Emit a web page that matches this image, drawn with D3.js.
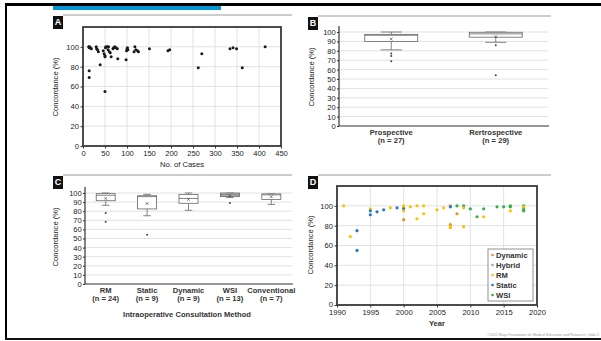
<!DOCTYPE html>
<html><head><meta charset="utf-8">
<script src="https://cdn.jsdelivr.net/npm/d3@7"></script>
<style>
body{margin:0;background:#fff;}
text{font-family:"Liberation Sans",Arial,Helvetica,sans-serif;}
</style></head>
<body><svg id="c" width="601" height="341"></svg>
<script>
// ---------- DATA ----------
// Panel A: number of cases vs concordance
const casesA = [13,15,17,19,14,14,14,30,31,33,35,39,46,48,50,50,50,51,52,55,57,58,60,62,64,68,70,72,75,78,79,98,99,100,101,102,118,116,120,124,126,151,193,197,262,270,334,341,349,362,414];
const concA  = [100,100,99,98,99,76,69,100,98,97,95,82,96,93,91,90,55,99,100,100,97,100,95,94,90,98,99,100,99,98,88,87,96,98,99,97,100,95,97,96,95,98,96,97,79,93,98,99,98,79,100];
const ticksA_x = [0,50,100,150,200,250,300,350,400,450];
const ticksA_y = [0,20,40,60,80,100];

// Panel B: study design box plots
const catsB = ["Prospective","Rertrospective"];
const nB = [27,29];
const lowB = [81,89], q1B = [90,94.5], medB = [96.5,98], q3B = [97.5,99.7], highB = [100,100], meanB = [92.5,95];
const outB = [[77,74.5,69],[86,54]];
const ticksB_y = [0,10,20,30,40,50,60,70,80,90,100];

// Panel C: consultation method box plots
const catsC = ["RM","Static","Dynamic","WSI","Conventional"];
const nC = [24,9,9,13,7];
const lowC = [86.5,75,81,95,87.5], q1C = [91.5,82.5,88.7,96,93], medC = [97.5,96,94,98,98], q3C = [99.3,97,98.5,100,99], highC = [100,98.5,100,100,99], meanC = [94,88.5,93,97,96];
const outC = [[78,68.5],[54],[],[89],[]];
const ticksC_y = [0,10,20,30,40,50,60,70,80,90,100];

// Panel D: year vs concordance by method
const methodsD = ["Dynamic","Hybrid","RM","Static","WSI"];
const colorsD = ["#f08a24","#a5a5a5","#ffc000","#1f78c8","#2db34a"];
const yearD  = [1991,1992,1993,1993,1995,1995,1995,1996,1997,1998,1999,2000,2000,2000,2000,2000,2001,2002,2002,2003,2003,2005,2006,2007,2007,2007,2007,2007,2008,2008,2009,2009,2009,2010,2011,2012,2012,2014,2015,2016,2016,2016,2018,2018,2018,2018,2018];
const concD  = [100,69,75,55,97,95,91,94,96,98,98,100,98,97,95,86,99,100,87,100,92,96,98,100,99,81,79,78,92,100,100,98,79,97,89,97,89,99,99,100,99,95,100,98,96,95,99];
const methD  = ["RM","RM","Static","Static","RM","Static","Static","Static","Static","RM","Static","RM","RM","Static","RM","Dynamic","RM","RM","RM","RM","RM","RM","RM","Dynamic","Static","Dynamic","RM","RM","Dynamic","WSI","WSI","RM","RM","WSI","WSI","WSI","RM","WSI","WSI","WSI","WSI","RM","WSI","WSI","WSI","WSI","RM"];
const ticksD_x = [1990,1995,2000,2005,2010,2015,2020];
const ticksD_y = [0,20,40,60,80,100];

// ---------- DRAW ----------
const svg = d3.select("#c");
const TXT = "#222", GRID = "#e2e2e2", AX = "#333";
const FS = 7.6;

// slide frame
svg.append("rect").attr("x",5).attr("y",3).attr("width",596).attr("height",3).attr("fill","#000");
svg.append("rect").attr("x",5).attr("y",3).attr("width",2).attr("height",337).attr("fill","#000");
svg.append("rect").attr("x",5).attr("y",338).attr("width",596).attr("height",2).attr("fill","#111");
svg.append("rect").attr("x",53).attr("y",6).attr("width",168).attr("height",4).attr("fill","#0096d6");
svg.append("text").attr("x",599).attr("y",336).attr("text-anchor","end").attr("font-size",3.6).attr("fill","#999")
  .text("©2022 Mayo Foundation for Medical Education and Research  |  slide-5");

function panelHeader(x, y, letter, x2){
  svg.append("line").attr("x1",x+10).attr("x2",x2).attr("y1",y).attr("y2",y).attr("stroke","#9a9a9a").attr("stroke-width",1);
  svg.append("rect").attr("x",x).attr("y",y+1).attr("width",10).attr("height",13).attr("fill","#111");
  svg.append("text").attr("x",x+5).attr("y",y+10).attr("text-anchor","middle").attr("font-size",9).attr("font-weight","bold").attr("fill","#fff").text(letter);
}
panelHeader(53,15,"A",292);
panelHeader(308,16,"B",551);
panelHeader(53,175,"C",292);
panelHeader(308,175,"D",551);

function yTitle(x, y, t){
  svg.append("text").attr("transform",`translate(${x},${y}) rotate(-90)`).attr("text-anchor","middle")
    .attr("font-size",FS).attr("fill",TXT).text(t);
}
function styleAxis(g){
  g.selectAll("text").attr("font-size",FS).attr("fill",TXT).style("font-family",'"Liberation Sans",Arial,sans-serif');
  g.selectAll("line").attr("stroke",AX);
  g.select(".domain").remove();
}

// ----- Panel A -----
{
  const x = d3.scaleLinear().domain([0,450]).range([83,281]);
  const y = d3.scaleLinear().domain([0,120]).range([146,27]);
  const g = svg.append("g");
  g.selectAll(".gx").data(ticksA_x).join("line").attr("x1",d=>x(d)).attr("x2",d=>x(d)).attr("y1",27).attr("y2",146).attr("stroke",GRID);
  g.selectAll(".gy").data(ticksA_y).join("line").attr("x1",83).attr("x2",281).attr("y1",d=>y(d)).attr("y2",d=>y(d)).attr("stroke",GRID);
  g.append("rect").attr("x",83).attr("y",27).attr("width",198).attr("height",119).attr("fill","none").attr("stroke","#3a3a3a").attr("stroke-width",1.8);
  const ax = svg.append("g").attr("transform","translate(0,146)").call(d3.axisBottom(x).tickValues(ticksA_x).tickSize(2.5).tickPadding(2.2));
  styleAxis(ax);
  const ay = svg.append("g").attr("transform","translate(83,0)").call(d3.axisLeft(y).tickValues(ticksA_y).tickSize(2.5).tickPadding(1.5));
  styleAxis(ay);
  svg.append("g").selectAll("circle").data(casesA.map((c,i)=>[c,concA[i]])).join("circle")
    .attr("cx",d=>x(d[0])).attr("cy",d=>y(d[1])).attr("r",1.5).attr("fill","#1a1a1a");
  yTitle(58,87,"Concordance (%)");
  svg.append("text").attr("x",182).attr("y",167).attr("text-anchor","middle").attr("font-size",FS).attr("fill",TXT).text("No. of Cases");
}

// box plot helper
function boxPlot(x, y, cats, low, q1, med, q3, high, mean, outs, bw, fills){
  const g = svg.append("g");
  cats.forEach((c,i)=>{
    const cx = x(c);
    const col = "#666";
    g.append("line").attr("x1",cx).attr("x2",cx).attr("y1",y(high[i])).attr("y2",y(q3[i])).attr("stroke",col).attr("stroke-width",0.8);
    g.append("line").attr("x1",cx).attr("x2",cx).attr("y1",y(q1[i])).attr("y2",y(low[i])).attr("stroke",col).attr("stroke-width",0.8);
    g.append("line").attr("x1",cx-bw*0.2).attr("x2",cx+bw*0.2).attr("y1",y(high[i])).attr("y2",y(high[i])).attr("stroke",col).attr("stroke-width",0.8);
    g.append("line").attr("x1",cx-bw*0.2).attr("x2",cx+bw*0.2).attr("y1",y(low[i])).attr("y2",y(low[i])).attr("stroke",col).attr("stroke-width",0.8);
    g.append("rect").attr("x",cx-bw/2).attr("y",y(q3[i])).attr("width",bw).attr("height",y(q1[i])-y(q3[i]))
      .attr("fill",fills[i]).attr("stroke",col).attr("stroke-width",0.8);
    g.append("line").attr("x1",cx-bw/2).attr("x2",cx+bw/2).attr("y1",y(med[i])).attr("y2",y(med[i])).attr("stroke",col).attr("stroke-width",0.8);
    const my = y(mean[i]);
    g.append("path").attr("d",`M${cx-1.3},${my-1.3}L${cx+1.3},${my+1.3}M${cx-1.3},${my+1.3}L${cx+1.3},${my-1.3}`).attr("stroke","#444").attr("stroke-width",0.7);
    outs[i].forEach(o=>{
      g.append("circle").attr("cx",cx).attr("cy",y(o)).attr("r",1).attr("fill","#444");
    });
  });
}

// ----- Panel B -----
{
  const x = d3.scalePoint().domain(catsB).range([339,548]).padding(0.5);
  const y = d3.scaleLinear().domain([0,100]).range([126,32]);
  svg.append("g").selectAll("line").data(ticksB_y.slice(1)).join("line").attr("x1",339).attr("x2",548).attr("y1",d=>y(d)).attr("y2",d=>y(d)).attr("stroke",GRID);
  svg.append("line").attr("x1",339).attr("x2",339).attr("y1",26).attr("y2",126).attr("stroke",AX).attr("stroke-width",1.2);
  svg.append("line").attr("x1",339).attr("x2",549).attr("y1",126).attr("y2",126).attr("stroke",AX).attr("stroke-width",1.2);
  const ay = svg.append("g").attr("transform","translate(339,0)").call(d3.axisLeft(y).tickValues(ticksB_y).tickSize(2).tickPadding(1.2));
  styleAxis(ay);
  boxPlot(x,y,catsB,lowB,q1B,medB,q3B,highB,meanB,outB,53,["#fff","#fff"]);
  catsB.forEach((c,i)=>{
    svg.append("text").attr("x",x(c)).attr("y",135).attr("text-anchor","middle").attr("font-size",FS).attr("font-weight","bold").attr("fill","#333").text(c);
    svg.append("text").attr("x",x(c)).attr("y",143).attr("text-anchor","middle").attr("font-size",FS).attr("font-weight","bold").attr("fill","#333").text(`(n = ${nB[i]})`);
  });
  yTitle(314,77,"Concordance (%)");
}

// ----- Panel C -----
{
  const x = d3.scalePoint().domain(catsC).range([85,292]).padding(0.5);
  const y = d3.scaleLinear().domain([0,100]).range([284,193]);
  svg.append("g").selectAll("line").data(ticksC_y.slice(1)).join("line").attr("x1",85).attr("x2",292).attr("y1",d=>y(d)).attr("y2",d=>y(d)).attr("stroke",GRID);
  svg.append("line").attr("x1",85).attr("x2",85).attr("y1",187).attr("y2",284).attr("stroke",AX).attr("stroke-width",1.2);
  svg.append("line").attr("x1",85).attr("x2",293).attr("y1",284).attr("y2",284).attr("stroke",AX).attr("stroke-width",1.2);
  const ay = svg.append("g").attr("transform","translate(85,0)").call(d3.axisLeft(y).tickValues(ticksC_y).tickSize(2).tickPadding(1.2));
  styleAxis(ay);
  boxPlot(x,y,catsC,lowC,q1C,medC,q3C,highC,meanC,outC,19,["#fff","#fff","#fff","#bdbdbd","#fff"]);
  catsC.forEach((c,i)=>{
    svg.append("text").attr("x",x(c)).attr("y",293).attr("text-anchor","middle").attr("font-size",FS).attr("font-weight","bold").attr("fill","#333").text(c);
    svg.append("text").attr("x",x(c)).attr("y",301).attr("text-anchor","middle").attr("font-size",FS).attr("font-weight","bold").attr("fill","#333").text(`(n = ${nC[i]})`);
  });
  svg.append("text").attr("x",187).attr("y",317).attr("text-anchor","middle").attr("font-size",FS).attr("font-weight","bold").attr("fill","#333").text("Intraoperative Consultation Method");
  yTitle(58,237,"Concordance (%)");
}

// ----- Panel D -----
{
  const x = d3.scaleLinear().domain([1990,2020]).range([337,537]);
  const y = d3.scaleLinear().domain([0,120]).range([305,186]);
  const color = d3.scaleOrdinal().domain(methodsD).range(colorsD);
  svg.append("g").selectAll("line").data(ticksD_x).join("line").attr("x1",d=>x(d)).attr("x2",d=>x(d)).attr("y1",186).attr("y2",305).attr("stroke",GRID);
  svg.append("g").selectAll("line").data(ticksD_y).join("line").attr("x1",337).attr("x2",537).attr("y1",d=>y(d)).attr("y2",d=>y(d)).attr("stroke",GRID);
  svg.append("rect").attr("x",337).attr("y",186).attr("width",200).attr("height",119).attr("fill","none").attr("stroke","#3a3a3a").attr("stroke-width",1.8);
  const ax = svg.append("g").attr("transform","translate(0,305)").call(d3.axisBottom(x).tickValues(ticksD_x).tickFormat(d3.format("d")).tickSize(2.5).tickPadding(2.6));
  styleAxis(ax);
  const ay = svg.append("g").attr("transform","translate(337,0)").call(d3.axisLeft(y).tickValues(ticksD_y).tickSize(2.5).tickPadding(1.5));
  styleAxis(ay);
  ay.selectAll("text").filter(d=>d===0).attr("dy","0.2em");
  svg.append("g").selectAll("circle").data(yearD.map((yr,i)=>[yr,concD[i],methD[i]])).join("circle")
    .attr("cx",d=>x(d[0])).attr("cy",d=>y(d[1])).attr("r",1.6).attr("fill",d=>color(d[2]));
  yTitle(313,245,"Concordance (%)");
  svg.append("text").attr("x",437).attr("y",326).attr("text-anchor","middle").attr("font-size",FS).attr("font-weight","bold").attr("fill","#333").text("Year");
  // legend
  const lg = svg.append("g");
  lg.append("rect").attr("x",488).attr("y",249).attr("width",45).attr("height",52).attr("fill","#fff").attr("stroke","#777").attr("stroke-width",0.8);
  methodsD.forEach((m,i)=>{
    const ly = 255+i*10;
    lg.append("circle").attr("cx",492.5).attr("cy",ly).attr("r",1.3).attr("fill",color(m));
    lg.append("text").attr("x",496).attr("y",ly+2.6).attr("font-size",FS).attr("font-weight","bold").attr("fill","#333").text(m);
  });
}
</script></body></html>
